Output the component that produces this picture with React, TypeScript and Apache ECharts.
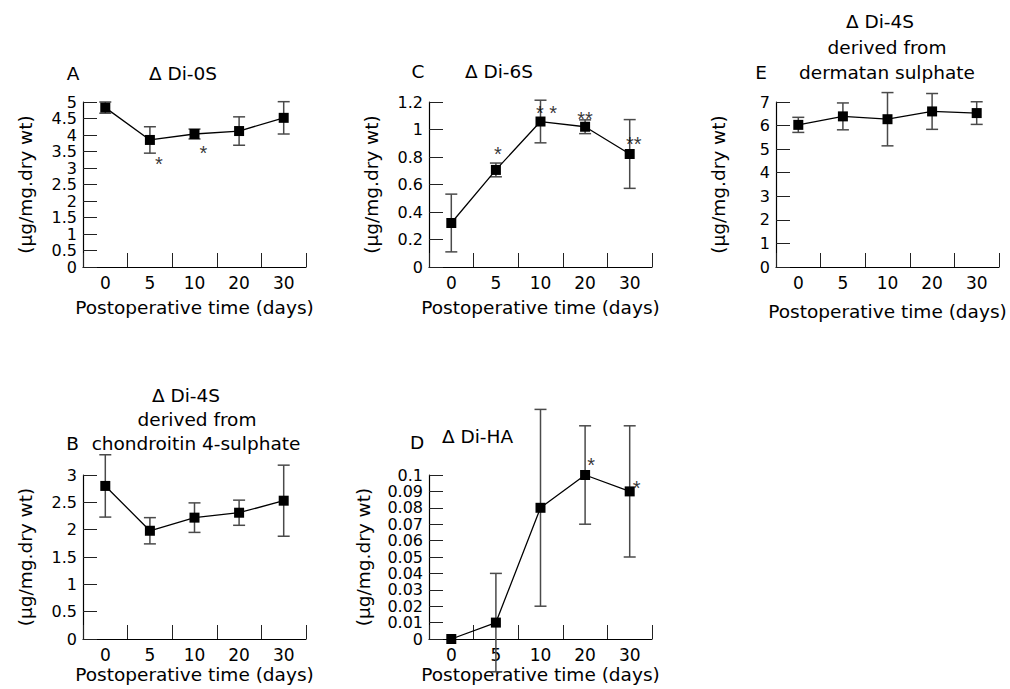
import React, { useEffect, useRef } from 'react';
import * as echarts from 'echarts';

const days = ['0', '5', '10', '20', '30'];

const aMean = [4.83, 3.85, 4.03, 4.12, 4.52];
const aErr = [0.17, 0.4, 0.15, 0.43, 0.49];
const aStars = ['', '*', '*', '', ''];
const aStarY = [null, 3.27, 3.6, null, null];

const cMean = [0.32, 0.706, 1.058, 1.02, 0.822];
const cErr = [0.21, 0.05, 0.155, 0.05, 0.25];
const cStars = ['', '*', '* *', '**', '**'];
const cStarY = [null, 0.86, 1.16, 1.11, 0.93];

const eMean = [6.03, 6.39, 6.27, 6.6, 6.53];
const eErr = [0.32, 0.57, 1.13, 0.76, 0.48];

const bMean = [2.8, 1.98, 2.22, 2.31, 2.53];
const bErr = [0.57, 0.24, 0.27, 0.23, 0.65];

const dMean = [0, 0.01, 0.08, 0.1, 0.09];
const dErr = [0, 0.03, 0.06, 0.03, 0.04];
const dStars = ['', '', '', '*', '*'];
const dStarY = [null, null, null, 0.109, 0.095];

const yMaxA = 5, yStepA = 0.5;
const yMaxC = 1.2, yStepC = 0.2;
const yMaxE = 7, yStepE = 1;
const yMaxB = 3, yStepB = 0.5;
const yMaxD = 0.1, yStepD = 0.01;

const FONT = 'DejaVu Sans';
const STAR_FONT = 'Liberation Sans';
const xName = 'Postoperative time (days)';
const yName = '(μg/mg.dry wt)';

type Panel = {
  grid: { left: number; top: number; width: number; height: number };
  mean: number[];
  err: number[];
  max: number;
  step: number;
  stars?: string[];
  starY?: (number | null)[];
  starDx?: number[];
  xNameGap: number;
  yNameGap: number;
};

const panels: Panel[] = [
  { grid: { left: 83, top: 102, width: 223, height: 165 }, mean: aMean, err: aErr, max: yMaxA, step: yStepA, stars: aStars, starY: aStarY, starDx: [0, 9, 9, 0, 0], xNameGap: 31, yNameGap: 48 },
  { grid: { left: 429, top: 102, width: 223, height: 165 }, mean: cMean, err: cErr, max: yMaxC, step: yStepC, stars: cStars, starY: cStarY, starDx: [0, 2, 6, 0, 4], xNameGap: 31, yNameGap: 48 },
  { grid: { left: 776, top: 102, width: 223, height: 165 }, mean: eMean, err: eErr, max: yMaxE, step: yStepE, xNameGap: 35, yNameGap: 48 },
  { grid: { left: 83, top: 475, width: 223, height: 164 }, mean: bMean, err: bErr, max: yMaxB, step: yStepB, xNameGap: 26, yNameGap: 48 },
  { grid: { left: 429, top: 475, width: 223, height: 164 }, mean: dMean, err: dErr, max: yMaxD, step: yStepD, stars: dStars, starY: dStarY, starDx: [0, 0, 0, 6, 7], xNameGap: 26, yNameGap: 56 },
];

function titleText(text: string, x: number, y: number) {
  return {
    type: 'text',
    x,
    y,
    style: {
      text,
      fill: '#000',
      font: `18.5px "${FONT}"`,
      textAlign: 'center',
      textVerticalAlign: 'middle',
    },
  };
}

export default function App() {
  const ref = useRef<HTMLDivElement>(null);

  useEffect(() => {
    if (!ref.current) return;
    const chart = echarts.init(ref.current, undefined, { renderer: 'svg' });

    const grids: any[] = [];
    const xAxes: any[] = [];
    const yAxes: any[] = [];
    const series: any[] = [];

    panels.forEach((p, gi) => {
      grids.push({ ...p.grid, containLabel: false });
      xAxes.push({
        type: 'category',
        gridIndex: gi,
        data: days,
        boundaryGap: true,
        axisLine: { show: true, lineStyle: { color: '#000', width: 1.2 } },
        axisTick: { show: true, inside: true, length: 14, lineStyle: { color: '#222', width: 1 } },
        axisLabel: { color: '#000', fontSize: 17, fontFamily: FONT, margin: 7, interval: 0 },
        splitLine: { show: false },
        name: xName,
        nameLocation: 'middle',
        nameGap: p.xNameGap,
        nameTextStyle: { color: '#000', fontSize: 18.5, fontFamily: FONT },
      });
      yAxes.push({
        type: 'value',
        gridIndex: gi,
        min: 0,
        max: p.max,
        interval: p.step,
        axisLine: { show: true, lineStyle: { color: '#000', width: 1.2 } },
        axisTick: { show: true, inside: true, length: 14, lineStyle: { color: '#222', width: 1 } },
        axisLabel: {
          color: '#000',
          fontSize: 16,
          lineHeight: 10,
          fontFamily: FONT,
          margin: 6,
          showMinLabel: true,
          showMaxLabel: true,
          hideOverlap: false,
        },
        splitLine: { show: false },
        name: yName,
        nameLocation: 'middle',
        nameGap: p.yNameGap,
        nameRotate: 90,
        nameTextStyle: { color: '#000', fontSize: 18.5, fontFamily: FONT },
      });

      const errData = p.mean.map((m, i) => [i, m, p.err[i]]);
      series.push({
        type: 'custom',
        xAxisIndex: gi,
        yAxisIndex: gi,
        clip: false,
        silent: true,
        z: 1,
        itemStyle: { color: '#4a4a4a' },
        data: errData,
        renderItem: (params: any, api: any) => {
          const i = api.value(0);
          const m = api.value(1);
          const e = api.value(2);
          if (!e) return { type: 'group', children: [] };
          const top = api.coord([i, m + e]);
          const bot = api.coord([i, m - e]);
          const w = 6;
          const st = { stroke: '#4a4a4a', lineWidth: 1.5 };
          return {
            type: 'group',
            children: [
              { type: 'line', shape: { x1: top[0], y1: top[1], x2: bot[0], y2: bot[1] }, style: st },
              { type: 'line', shape: { x1: top[0] - w, y1: top[1], x2: top[0] + w, y2: top[1] }, style: st },
              { type: 'line', shape: { x1: bot[0] - w, y1: bot[1], x2: bot[0] + w, y2: bot[1] }, style: st },
            ],
          };
        },
      });

      series.push({
        type: 'line',
        xAxisIndex: gi,
        yAxisIndex: gi,
        data: p.mean,
        symbol: 'rect',
        symbolSize: 10,
        showSymbol: true,
        itemStyle: { color: '#000' },
        lineStyle: { color: '#000', width: 1.3 },
        z: 3,
        silent: true,
      });

      if (p.stars && p.starY) {
        const starData: any[] = [];
        p.stars.forEach((s, i) => {
          const yy = p.starY![i];
          if (s && yy != null) {
            starData.push({
              name: s,
              value: [i, yy],
              label: { offset: [p.starDx ? p.starDx[i] : 0, 5] },
            });
          }
        });
        series.push({
          type: 'scatter',
          xAxisIndex: gi,
          yAxisIndex: gi,
          silent: true,
          clip: false,
          z: 4,
          symbol: 'circle',
          symbolSize: 1,
          itemStyle: { color: 'rgba(0,0,0,0)' },
          label: {
            show: true,
            position: 'inside',
            formatter: '{b}',
            color: '#000',
            fontSize: 20,
            fontFamily: STAR_FONT,
          },
          data: starData,
        });
      }
    });

    chart.setOption({
      animation: false,
      backgroundColor: '#fff',
      grid: grids,
      xAxis: xAxes,
      yAxis: yAxes,
      series,
      graphic: [
        titleText('A', 73, 73),
        titleText('Δ Di-0S', 183, 73),
        titleText('C', 418, 71),
        titleText('Δ Di-6S', 499, 71),
        titleText('Δ Di-4S', 880, 21),
        titleText('derived from', 887, 47),
        titleText('E', 761, 72),
        titleText('dermatan sulphate', 887, 72),
        titleText('Δ Di-4S', 186, 395),
        titleText('derived from', 197, 419),
        titleText('B', 72.5, 443),
        titleText('chondroitin 4-sulphate', 196, 443),
        titleText('D', 417, 442),
        titleText('Δ Di-HA', 477.5, 436),
      ],
    });

    return () => {
      chart.dispose();
    };
  }, []);

  return (
    <div
      ref={ref}
      style={{ position: 'absolute', left: 0, top: 0, width: 1010, height: 689 }}
    />
  );
}
